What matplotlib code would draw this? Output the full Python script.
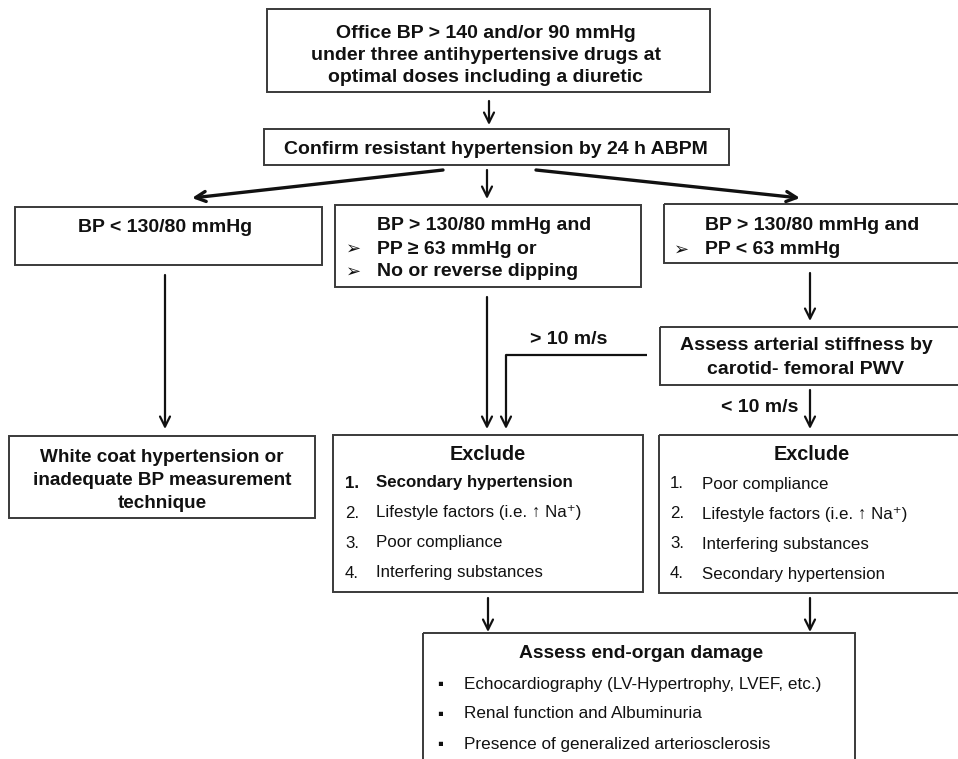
import matplotlib.pyplot as plt
from matplotlib.patches import Rectangle

plt.rcParams['font.family'] = ['Liberation Sans', 'DejaVu Sans']

# Textos del diagrama
top_lines = ['Office BP > 140 and/or 90 mmHg',
             'under three antihypertensive drugs at',
             'optimal doses including a diuretic']
confirm_text = 'Confirm resistant hypertension by 24 h ABPM'
low_text = 'BP < 130/80 mmHg'
mid_head = 'BP > 130/80 mmHg and'
mid_bullets = ['PP \u2265 63 mmHg or', 'No or reverse dipping']
right_head = 'BP > 130/80 mmHg and'
right_bullets = ['PP < 63 mmHg']
stiff_lines = ['Assess arterial stiffness by', 'carotid- femoral PWV']
high_pwv = '> 10 m/s'
low_pwv = '< 10 m/s'
white_lines = ['White coat hypertension or', 'inadequate BP measurement', 'technique']
exclude_title = 'Exclude'
exclude_mid = ['Secondary hypertension', 'Lifestyle factors (i.e. \u2191 Na\u207a)',
               'Poor compliance', 'Interfering substances']
exclude_right = ['Poor compliance', 'Lifestyle factors (i.e. \u2191 Na\u207a)',
                 'Interfering substances', 'Secondary hypertension']
organ_title = 'Assess end-organ damage'
organ_items = ['Echocardiography (LV-Hypertrophy, LVEF, etc.)',
               'Renal function and Albuminuria',
               'Presence of generalized arteriosclerosis']

W, H = 958, 759
fig = plt.figure(figsize=(W / 100, H / 100), dpi=100)
ax = fig.add_axes([0, 0, 1, 1])
ax.set_xlim(0, W)
ax.set_ylim(H, 0)
ax.axis('off')

txt_col = '#111111'
edge_col = '#3a3a3a'


def caja(x0, y0, x1, y1):
    ax.add_patch(Rectangle((x0, y0), x1 - x0, y1 - y0, fill=False,
                           edgecolor=edge_col, linewidth=1.4))


def flecha(x0, y0, x1, y1, lw=1.6):
    ax.annotate('', xy=(x1, y1), xytext=(x0, y0),
                arrowprops=dict(arrowstyle='->', color='#111111', lw=lw,
                                shrinkA=0, shrinkB=0,
                                mutation_scale=18))


def texto(x, y, s, size=14, bold=True, ha='center'):
    # pequeño ajuste vertical: va='center' sube un poco el texto
    ax.text(x, y + 2, s, ha=ha, va='center', fontsize=size, color=txt_col,
            fontweight='bold' if bold else 'normal')


# Cajas
caja(267, 9, 710, 92)
caja(264, 129, 729, 165)
caja(15, 207, 322, 265)
caja(335, 205, 641, 287)
caja(664, 204, 975, 263)
caja(660, 327, 975, 385)
caja(9, 436, 315, 518)
caja(333, 435, 643, 592)
caja(659, 435, 975, 593)
caja(423, 633, 855, 790)

# Caja superior
for i, s in enumerate(top_lines):
    texto(486, 32 + i * 21.5, s)
flecha(489, 101, 489, 125)
texto(496, 147, confirm_text)

# Ramas
flecha(443, 170, 192, 198, lw=2.4)
flecha(487, 170, 487, 199, lw=1.6)
flecha(536, 170, 800, 198, lw=2.4)

texto(165, 226, low_text)
texto(377, 223, mid_head, ha='left')
for i, s in enumerate(mid_bullets):
    texto(354, 247 + i * 23, '\u27a2', size=13, bold=False)
    texto(377, 247 + i * 23, s, ha='left')
texto(705, 223, right_head, ha='left')
for i, s in enumerate(right_bullets):
    texto(682, 248 + i * 23, '\u27a2', size=13, bold=False)
    texto(705, 248 + i * 23, s, ha='left')

flecha(165, 275, 165, 429)
flecha(487, 297, 487, 429)
flecha(810, 273, 810, 321)

for i, s in enumerate(stiff_lines):
    texto(806, 344 + i * 24, s)
texto(569, 337, high_pwv)
ax.plot([647, 506], [355, 355], color='#111111', lw=1.6, solid_capstyle='butt')
flecha(506, 355, 506, 429)
texto(760, 406, low_pwv)
flecha(810, 390, 810, 429)

# Fila inferior
for i, s in enumerate(white_lines):
    texto(162, 455 + i * 23.5, s, size=13.6)

texto(488, 452, exclude_title, size=14.3)
for i, s in enumerate(exclude_mid):
    y = 481 + i * 30
    texto(345, y, f'{i + 1}.', size=12.2, bold=(i == 0), ha='left')
    texto(376, y, s, size=12.2, bold=(i == 0), ha='left')

texto(812, 452, exclude_title, size=14.3)
for i, s in enumerate(exclude_right):
    y = 482 + i * 30
    texto(670, y, f'{i + 1}.', size=12.2, bold=False, ha='left')
    texto(702, y, s, size=12.2, bold=False, ha='left')

flecha(488, 598, 488, 632)
flecha(810, 598, 810, 632)

texto(641, 652, organ_title, size=13.9)
for i, s in enumerate(organ_items):
    y = 682 + i * 30
    texto(440, y, '\u25aa', size=12, bold=False)
    texto(464, y, s, size=12.3, bold=False, ha='left')

fig.savefig('out.png', dpi=100)
